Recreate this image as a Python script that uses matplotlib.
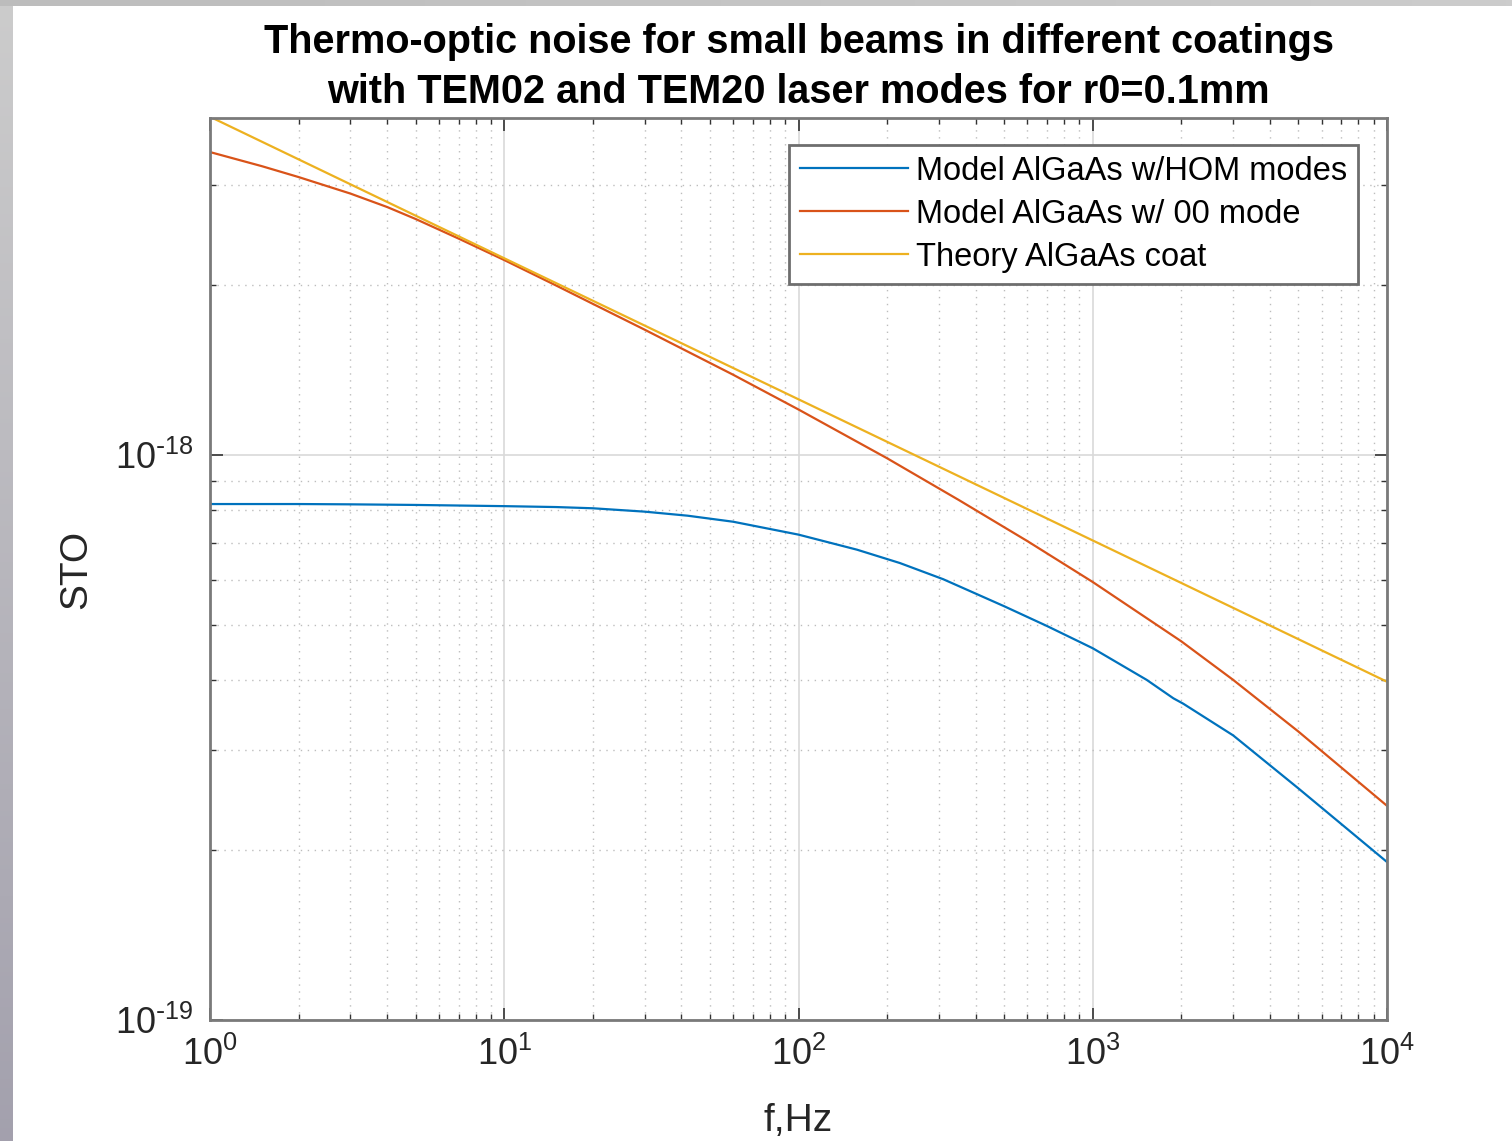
import numpy as np
import matplotlib
matplotlib.use("Agg")
import matplotlib.pyplot as plt
from matplotlib.ticker import LogLocator, NullFormatter, FuncFormatter

plt.rcParams['font.family'] = ['Liberation Sans', 'DejaVu Sans']
plt.rcParams['mathtext.default'] = 'regular'
plt.rcParams['axes.unicode_minus'] = False

# values
f_hom = [1, 2, 3, 5, 10, 15, 20, 30, 42, 60, 100, 158, 221, 310, 500, 700, 1000,
         1525, 1880, 2030, 3000, 5000, 10000]
sto_hom = [8.19e-19, 8.19e-19, 8.18e-19, 8.16e-19, 8.12e-19, 8.09e-19, 8.05e-19, 7.94e-19,
           7.81e-19, 7.62e-19, 7.23e-19, 6.80e-19, 6.44e-19, 6.03e-19, 5.40e-19, 4.98e-19,
           4.55e-19, 4.00e-19, 3.71e-19, 3.63e-19, 3.19e-19, 2.57e-19, 1.904e-19]

f_00 = [1, 1.5, 2, 3, 4, 5, 7, 10, 15, 20, 30, 60, 100, 200, 350, 600, 1000,
        2000, 3000, 5000, 10000]
sto_00 = [3.438e-18, 3.246e-18, 3.105e-18, 2.903e-18, 2.748e-18, 2.617e-18, 2.416e-18,
          2.214e-18, 1.996e-18, 1.852e-18, 1.667e-18, 1.387e-18, 1.204e-18, 9.87e-19,
          8.33e-19, 7.04e-19, 5.96e-19, 4.68e-19, 4.00e-19, 3.24e-19, 2.394e-19]

f_th = [1, 10, 100, 1000, 10000]
sto_th = [3.97e-18, 2.23e-18, 1.255e-18, 7.06e-19, 3.97e-19]

labels = ['Model AlGaAs w/HOM modes', 'Model AlGaAs w/ 00 mode', 'Theory AlGaAs coat']
colors = ['#0072BD', '#D95319', '#EDB120']


def dec_label(v, pos):
    e = int(round(np.log10(v)))
    if e < 0:
        return r'$10^{\text{-}%d}$' % (-e)
    return r'$10^{%d}$' % e


fig = plt.figure(figsize=(15.12, 11.41), dpi=100)

# grey slide edges
bg = fig.add_axes([0, 0, 13 / 1512, 1])
grad = np.linspace(0, 1, 256).reshape(-1, 1)
bg.imshow(np.dstack([0.80 - 0.16 * grad, 0.80 - 0.17 * grad, 0.80 - 0.12 * grad]), aspect='auto')
bg.axis('off')
top = fig.add_axes([0, 1 - 6 / 1141, 1, 6 / 1141])
hgrad = np.linspace(0, 1, 256).reshape(1, -1)
top.imshow(np.dstack([0.74 + 0.06 * hgrad, 0.74 + 0.06 * hgrad, 0.74 + 0.06 * hgrad]), aspect='auto')
top.axis('off')

ax = fig.add_axes([210 / 1512, 1 - 1020 / 1141, 1177 / 1512, 902 / 1141])
ax.plot(f_hom, sto_hom, color=colors[0], lw=1.6, label=labels[0])
ax.plot(f_00, sto_00, color=colors[1], lw=1.6, label=labels[1])
ax.plot(f_th, sto_th, color=colors[2], lw=1.6, label=labels[2])

ax.set_xscale('log')
ax.set_yscale('log')
ax.set_xlim(1, 1e4)
ax.set_ylim(1e-19, 3.95e-18)

ax.xaxis.set_major_locator(LogLocator(base=10, numticks=10))
ax.xaxis.set_minor_locator(LogLocator(base=10, subs=np.arange(2, 10), numticks=50))
ax.yaxis.set_minor_locator(LogLocator(base=10, subs=np.arange(2, 10), numticks=50))
ax.xaxis.set_major_formatter(FuncFormatter(dec_label))
ax.yaxis.set_major_formatter(FuncFormatter(dec_label))
ax.xaxis.set_minor_formatter(NullFormatter())
ax.yaxis.set_minor_formatter(NullFormatter())

ax.grid(True, which='major', color='#d9d9d9', lw=1.2, ls='-')
ax.grid(True, which='minor', color='#bdbdbd', lw=1.0, ls=(0, (1, 4)))
ax.set_axisbelow(True)

for s in ax.spines.values():
    s.set_color('#7a7a7a')
    s.set_linewidth(2.0)
ax.tick_params(which='both', direction='in', top=True, right=True, colors='#333333',
               labelcolor='#262626', labelsize=26)
ax.tick_params(which='major', length=9, width=1.2, pad=12)
ax.tick_params(which='minor', length=4, width=1.0)

ax.set_xlabel('f,Hz', fontsize=28, color='#262626')
ax.set_ylabel('STO', fontsize=28, color='#262626')
ax.xaxis.set_label_coords(0.5, -0.092)
ax.yaxis.set_label_coords(-0.098, 0.5)

ax.set_title('Thermo-optic noise for small beams in different coatings\n'
             'with TEM02 and TEM20 laser modes for r0=0.1mm',
             fontsize=28.5, fontweight='bold', color='black', pad=10.5, linespacing=1.42)

leg = ax.legend(loc='upper right', bbox_to_anchor=(1148 / 1177, 1 - 27 / 902), fontsize=23.5,
                frameon=True, fancybox=False, framealpha=1, edgecolor='#6e6e6e',
                handlelength=3.3, handletextpad=0.25, borderpad=0.33, labelspacing=0.37,
                borderaxespad=0)
leg.get_frame().set_linewidth(2.0)

fig.savefig('out.png', dpi=100)
